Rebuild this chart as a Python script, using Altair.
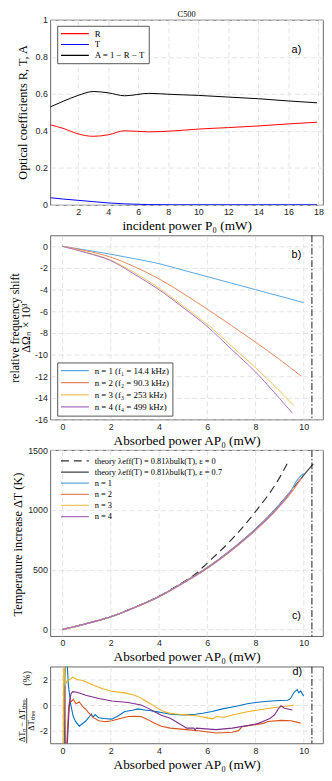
import altair as alt
import pandas as pd

# ---------------- panel a : optical coefficients vs incident power
p_inc = [0.15, 1.0, 2.0, 3.0, 4.0, 5.1, 6.7, 8.3, 10.0, 12.0, 14.0, 16.0, 17.9]
coef_R = [0.433, 0.414, 0.384, 0.371, 0.379, 0.401, 0.395, 0.400, 0.410, 0.418, 0.427, 0.438, 0.447]
coef_T = [0.039, 0.032, 0.025, 0.018, 0.011, 0.006, 0.002, 0.001, 0.001, 0.001, 0.001, 0.001, 0.001]
coef_A = [0.530, 0.560, 0.592, 0.613, 0.606, 0.590, 0.603, 0.597, 0.592, 0.583, 0.574, 0.562, 0.552]
names_a = ["R", "T", "A = 1 − R − T"]
colors_a = ["#ff0000", "#0000ff", "#000000"]

# ---------------- panel b : relative frequency shift vs absorbed power
b_x1 = [0, 1, 2, 3, 4, 5, 6, 7, 8, 9, 10.0]
b_y1 = [0, -0.35, -0.73, -1.15, -1.6, -2.2, -2.8, -3.4, -4.0, -4.6, -5.2]
b_x2 = [0, 1, 2, 3, 4, 5, 6, 7, 8, 9, 9.9]
b_y2 = [0, -0.42, -1.0, -1.9, -3.0, -4.35, -5.8, -7.3, -8.85, -10.45, -12.0]
b_x3 = [0, 1, 2, 3, 4, 5, 6, 7, 8, 9, 9.59]
b_y3 = [0, -0.55, -1.27, -2.45, -3.85, -5.5, -7.2, -9.2, -11.2, -13.35, -14.7]
b_x4 = [0, 1, 2, 3, 4, 5, 6, 7, 8, 9, 9.53]
b_y4 = [0, -0.6, -1.32, -2.6, -4.0, -5.65, -7.4, -9.5, -11.6, -14.05, -15.4]
names_b = ["n = 1 (f₁ = 14.4 kHz)", "n = 2 (f₂ = 90.3 kHz)",
           "n = 3 (f₃ = 253 kHz)", "n = 4 (f₄ = 499 kHz)"]
colors_light = ["#5aa6df", "#e8875c", "#f1c35a", "#a86fbf"]

# ---------------- panel c : temperature increase vs absorbed power
c_x1 = [0, 1, 2, 3, 4, 5, 6, 7, 8, 9, 9.5, 9.7, 9.85, 10.0]
c_y1 = [0, 50, 107, 185, 275, 390, 515, 665, 838, 1045, 1170, 1240, 1278, 1305]
c_x2 = [0, 1, 2, 3, 4, 5, 6, 7, 8, 9, 9.5, 9.9]
c_y2 = [0, 50, 107, 184, 274, 388, 512, 660, 830, 1030, 1150, 1265]
c_x3 = [0, 1, 2, 3, 4, 5, 6, 7, 8, 9, 9.6]
c_y3 = [0, 50, 107, 185, 275, 389, 514, 663, 834, 1036, 1185]
c_x4 = [0, 1, 2, 3, 4, 5, 6, 7, 8, 9, 9.53]
c_y4 = [0, 50, 107, 185, 275, 389, 514, 663, 834, 1036, 1168]
th07_x = [0, 1, 2, 3, 4, 5, 6, 7, 8, 9, 9.5, 10.0, 10.4]
th07_y = [0, 50, 107, 186, 277, 392, 518, 668, 840, 1045, 1165, 1290, 1385]
th0_x = [0, 1, 2, 3, 4, 5, 5.5, 6, 7, 8, 9, 9.32]
th0_y = [0, 50, 107, 186, 278, 396, 462, 555, 750, 985, 1270, 1388]
names_c = ["theory λeff(T) = 0.81λbulk(T), ε = 0",
           "theory λeff(T) = 0.81λbulk(T), ε = 0.7",
           "n = 1", "n = 2", "n = 3", "n = 4"]

# ---------------- panel d : relative deviation from theory
d_x1 = [0.08, 0.12, 0.16, 0.2, 0.25, 0.35, 0.45, 0.55, 0.7, 0.8, 0.97, 1.1, 1.2, 1.27, 1.35,
        1.51, 1.7, 2.05, 2.3, 2.59, 2.9, 3.13, 3.4, 3.67, 4.0, 4.47, 5.0, 5.5, 5.82, 6.2,
        6.63, 7.2, 7.71, 8.1, 8.52, 9.0, 9.33, 9.45, 9.6, 9.73, 9.8, 9.87, 10.0]
d_y1 = [-3.5, 3.5, 3.5, 3.2, 1.5, 0.0, -0.9, -1.3, -1.65, -1.5, -1.25, -0.95, -0.7, -0.95, -0.75,
        -1.0, -1.05, -1.1, -0.85, -0.5, -0.4, -0.3, -0.38, -0.45, -0.55, -0.72, -0.77, -0.72, -0.64, -0.5,
        -0.3, -0.1, 0.12, 0.22, 0.3, 0.35, 0.38, 0.5, 1.0, 1.2, 0.95, 1.1, 0.7]
d_x2 = [0.1, 0.13, 0.17, 0.22, 0.26, 0.3, 0.36, 0.45, 0.56, 0.7, 0.84, 1.0, 1.1, 1.3, 1.51, 1.8,
        2.05, 2.4, 2.72, 3.0, 3.26, 3.5, 3.8, 4.1, 4.47, 5.15, 5.8, 6.36, 7.04, 7.3, 7.44, 7.7,
        7.98, 8.3, 8.52, 9.06, 9.47, 9.87]
d_y2 = [1.5, -3.5, -3.5, -1.5, -0.2, 0.3, 0.25, 0.45, 0.1, 0.25, -0.13, -0.4, -0.64, -1.0, -1.23, -1.3,
        -1.23, -1.05, -0.9, -0.88, -0.9, -1.1, -1.41, -1.65, -1.8, -1.92, -2.05, -2.18, -2.12, -2.0, -1.7, -1.62,
        -1.54, -1.45, -1.28, -1.2, -1.23, -1.41]
d_x3 = [0.03, 0.06, 0.09, 0.13, 0.2, 0.3, 0.43, 0.6, 0.84, 1.1, 1.37, 1.7, 2.05, 2.59, 3.0, 3.2,
        3.4, 3.7, 3.94, 4.2, 4.47, 4.8, 5.15, 5.6, 6.0, 6.23, 6.37, 6.7, 7.04, 7.71, 8.38, 9.06,
        9.4, 9.6]
d_y3 = [-3.5, 3.5, 3.5, 1.6, 1.9, 2.0, 2.18, 2.0, 1.92, 1.7, 1.48, 1.25, 1.08, 0.95, 0.77, 0.6,
        0.38, 0.05, -0.26, -0.5, -0.65, -0.72, -0.77, -0.85, -1.0, -1.08, -0.9, -0.95, -0.77, -0.51, -0.31, -0.13,
        -0.05, 0.0]
d_x4 = [0.18, 0.22, 0.26, 0.3, 0.36, 0.43, 0.6, 0.97, 1.51, 2.05, 2.72, 3.26, 3.5, 3.8, 4.1, 4.47,
        4.8, 5.15, 5.45, 5.5, 5.55, 6.36, 7.04, 7.71, 8.1, 8.38, 8.6, 8.79, 8.95, 9.06, 9.2, 9.53]
d_y4 = [-3.5, -2.5, -1.0, 0.3, 0.9, 1.05, 1.0, 0.77, 0.51, 0.31, 0.2, 0.0, -0.2, -0.51, -0.8, -1.03,
        -1.4, -1.8, -1.8, -1.95, -1.8, -1.92, -1.8, -1.59, -1.45, -1.23, -1.05, -0.77, -0.3, -0.05, -0.25, -0.38]
names_d = ["n = 1", "n = 2", "n = 3", "n = 4"]
colors_dark = ["#0072bd", "#d95319", "#edb120", "#7e2f8e"]

limit_power = [10.34]

# ---------------- helpers
SERIF = "Liberation Serif"
SANS = "Liberation Sans"
W = 277
NUM = "replace(format(datum.value, '~f'), '−', '-')"


def long_df(xs_list, ys_list, names):
    rows = []
    for k, (xs, ys, nm) in enumerate(zip(xs_list, ys_list, names)):
        for i, (xv, yv) in enumerate(zip(xs, ys)):
            rows.append({"x": xv, "y": yv, "s": nm, "o": i, "k": k})
    return pd.DataFrame(rows)


def label_text(txt, x, y, size=11, font=SANS, angle=0, align="center", baseline="middle"):
    return alt.Chart(pd.DataFrame({"t": [txt]})).mark_text(
        font=font, fontSize=size, angle=angle, align=align, baseline=baseline, color="black"
    ).encode(text="t:N", x=alt.value(x), y=alt.value(y))


def xaxis(values, title):
    return alt.Axis(values=values, title=title, labelExpr=NUM)


def yaxis(values):
    return alt.Axis(values=values, title=None, labelExpr=NUM)


def leg(x, y, box, clip_h, row_pad, size=9):
    kw = dict(orient="none", legendX=x, legendY=y, title=None, symbolType="stroke",
              symbolSize=800, symbolStrokeWidth=1.2, clipHeight=clip_h, rowPadding=row_pad,
              labelFont=SERIF, labelFontSize=size, labelOffset=5, labelLimit=300,
              labelColor="black", padding=3)
    if box:
        kw.update(fillColor="white", strokeColor="#555555")
    return alt.Legend(**kw)


xb_scale = alt.Scale(domain=[-0.5, 10.8], nice=False, zero=False)
xb_axis = xaxis([0, 2, 4, 6, 8, 10], "Absorbed power AP₀ (mW)")
limit_df = pd.DataFrame({"x": limit_power})


def limit_rule():
    return alt.Chart(limit_df).mark_rule(color="black", strokeWidth=0.9,
                                         strokeDash=[7, 2, 1.5, 2]).encode(x=alt.X("x:Q"))


# ---------------- panel a
dfa = long_df([p_inc, p_inc, p_inc], [coef_R, coef_T, coef_A], names_a)
lines_a = alt.Chart(dfa).mark_line(strokeWidth=1, interpolate="monotone", clip=True).encode(
    x=alt.X("x:Q", scale=alt.Scale(domain=[0.15, 18.3], nice=False, zero=False),
            axis=xaxis(list(range(2, 19, 2)), "incident power P₀ (mW)")),
    y=alt.Y("y:Q", scale=alt.Scale(domain=[0, 1], nice=False), axis=yaxis([0, 0.2, 0.4, 0.6, 0.8, 1])),
    color=alt.Color("s:N", scale=alt.Scale(domain=names_a, range=colors_a),
                    legend=leg(7, 6, True, 10, 1)),
    detail="k:N", order="o:Q")
panel_a = alt.layer(
    lines_a,
    label_text("Optical coefficients R, T, A", -28, 94, size=12.5, font=SERIF, angle=270),
    label_text("a)", 250, 31),
    label_text("C500", W / 2, -2.5, size=8.5, font=SERIF, baseline="alphabetic"),
).properties(width=W, height=188)

# ---------------- panel b
dfb = long_df([b_x1, b_x2, b_x3, b_x4], [b_y1, b_y2, b_y3, b_y4], names_b)
lines_b = alt.Chart(dfb).mark_line(strokeWidth=1, interpolate="monotone", clip=True).encode(
    x=alt.X("x:Q", scale=xb_scale, axis=xb_axis),
    y=alt.Y("y:Q", scale=alt.Scale(domain=[-16, 1], nice=False), axis=yaxis(list(range(-16, 1, 2)))),
    color=alt.Color("s:N", scale=alt.Scale(domain=names_b, range=colors_light),
                    legend=leg(7, 129, True, 10.5, 1.3)),
    detail="k:N", order="o:Q")
panel_b = alt.layer(
    lines_b, limit_rule(),
    label_text("relative frequency shift", -36, 94, size=12, font=SERIF, angle=270),
    label_text("ΔΩₙ × 10³", -24.5, 94, size=12, font=SERIF, angle=270),
    label_text("b)", 250, 20),
).properties(width=W, height=187)

# ---------------- panel c
dfc = long_df([th0_x, th07_x, c_x1, c_x2, c_x3, c_x4],
              [th0_y, th07_y, c_y1, c_y2, c_y3, c_y4], names_c)
lines_c = alt.Chart(dfc).mark_line(strokeWidth=1.2, interpolate="monotone", clip=True).encode(
    x=alt.X("x:Q", scale=xb_scale, axis=xb_axis),
    y=alt.Y("y:Q", scale=alt.Scale(domain=[-55, 1500], nice=False), axis=yaxis([0, 500, 1000, 1500])),
    color=alt.Color("s:N", scale=alt.Scale(domain=names_c,
                                           range=["#303030", "#404040"] + colors_light),
                    legend=leg(7, 3, False, 10, 1.3, size=8.5)),
    strokeDash=alt.StrokeDash("s:N", scale=alt.Scale(domain=names_c,
                                                     range=[[8, 5], [1, 0], [1, 0], [1, 0], [1, 0], [1, 0]]),
                              legend=leg(7, 3, False, 10, 1.3, size=8.5)),
    detail="k:N", order="o:Q")
panel_c = alt.layer(
    lines_c, limit_rule(),
    label_text("Temperature increase ΔT (K)", -33, 96, size=12.5, font=SERIF, angle=270),
    label_text("c)", 250, 169),
).properties(width=W, height=189)

# ---------------- panel d
dfd = long_df([d_x1, d_x2, d_x3, d_x4], [d_y1, d_y2, d_y3, d_y4], names_d)
lines_d = alt.Chart(dfd).mark_line(strokeWidth=1.1, clip=True).encode(
    x=alt.X("x:Q", scale=xb_scale, axis=xb_axis),
    y=alt.Y("y:Q", scale=alt.Scale(domain=[-3, 3], nice=False), axis=yaxis([-2, 0, 2])),
    color=alt.Color("s:N", scale=alt.Scale(domain=names_d, range=colors_dark), legend=None),
    detail="k:N", order="o:Q")
frac_bar = alt.Chart(pd.DataFrame({"t": [""]})).mark_rule(color="black", strokeWidth=0.7).encode(
    x=alt.value(-24), y=alt.value(32), y2=alt.value(78))
panel_d = alt.layer(
    lines_d, limit_rule(),
    label_text("ΔTₙ − ΔTₜₕₑₒ", -28.5, 55, size=8.5, font=SERIF, angle=270),
    frac_bar,
    label_text("ΔTₜₕₑₒ", -19.5, 55, size=8.5, font=SERIF, angle=270),
    label_text("(%)", -24, 12, size=10, font=SERIF, angle=270),
    label_text("d)", 251, 5),
).properties(width=W, height=78)

chart = alt.vconcat(panel_a, panel_b, panel_c, panel_d, spacing=31, bounds="flush").resolve_scale(
    color="independent", strokeDash="independent", x="independent", y="independent"
).properties(padding={"left": 0, "top": -4, "right": 0, "bottom": 0}).configure_view(
    stroke="#404040", strokeWidth=0.8
).configure_axis(
    labelFont=SANS, labelFontSize=9, labelColor="#262626", labelPadding=3,
    titleFont=SERIF, titleFontSize=13.5, titleFontWeight="normal", titleColor="black", titlePadding=2,
    grid=True, gridDash=[5, 3], gridColor="#dcdcdc", gridWidth=0.8,
    domain=False, ticks=False
)

chart.save("out.html", embed_options={"renderer": "svg", "actions": False})
